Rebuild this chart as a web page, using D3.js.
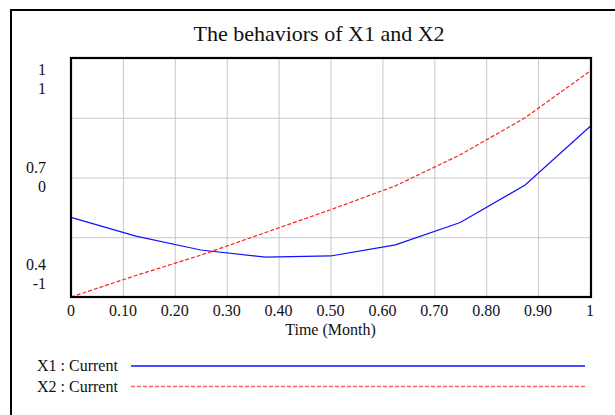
<!DOCTYPE html>
<html>
<head>
<meta charset="utf-8">
<script src="https://cdn.jsdelivr.net/npm/d3@7"></script>
<style>
  body { margin: 0; background: #fff; }
  text { font-family: "Liberation Serif", "Times New Roman", serif; fill: #111; }
</style>
</head>
<body>
<div id="chart"></div>
<script>
// values (saved every 0.125 month)
const time = [0, 0.125, 0.25, 0.375, 0.5, 0.625, 0.75, 0.875, 1]
const x1 = [0.60, 0.553, 0.518, 0.500, 0.503, 0.531, 0.587, 0.681, 0.828]
const x2 = [-1, -0.82, -0.65, -0.46, -0.27, -0.07, 0.19, 0.50, 0.89]

const xTicks = [0, 0.1, 0.2, 0.3, 0.4, 0.5, 0.6, 0.7, 0.8, 0.9, 1]
const xTickLabels = ["0", "0.10", "0.20", "0.30", "0.40", "0.50", "0.60", "0.70", "0.80", "0.90", "1"]
const x1Ticks = [0.4, 0.7, 1]
const x2Ticks = [-1, 0, 1]
const seriesNames = ["X1 : Current", "X2 : Current"]

const width = 615
const height = 415
const plotLeft = 71, plotRight = 590, plotTop = 58, plotBottom = 297

const svg = d3.select("#chart").append("svg")
  .attr("width", width)
  .attr("height", height)

// outer frame (only top and left edges show)
svg.append("path")
  .attr("d", "M11," + height + "V10H" + width)
  .attr("fill", "none")
  .attr("stroke", "#000")
  .attr("stroke-width", 2)

const x = d3.scaleLinear().domain([0, 1]).range([plotLeft, plotRight])
const y1 = d3.scaleLinear().domain([0.4, 1]).range([plotBottom, plotTop])
const y2 = d3.scaleLinear().domain([-1, 1]).range([plotBottom, plotTop])

// grid
const xGrid = d3.axisBottom(x).tickValues(xTicks).tickSize(-(plotBottom - plotTop)).tickFormat("")
svg.append("g")
  .attr("transform", "translate(0," + plotBottom + ")")
  .call(xGrid)
  .call(g => g.select(".domain").remove())
  .call(g => g.selectAll("line").attr("stroke", "#c8c8c8"))

const yGrid = d3.axisLeft(y2).tickValues([-0.5, 0, 0.5]).tickSize(-(plotRight - plotLeft)).tickFormat("")
svg.append("g")
  .attr("transform", "translate(" + plotLeft + ",0)")
  .call(yGrid)
  .call(g => g.select(".domain").remove())
  .call(g => g.selectAll("line").attr("stroke", "#c8c8c8"))

// lines
const line1 = d3.line().x((d, i) => x(time[i])).y(d => y1(d))
const line2 = d3.line().x((d, i) => x(time[i])).y(d => y2(d))

svg.append("path")
  .datum(x1)
  .attr("d", line1)
  .attr("fill", "none")
  .attr("stroke", "#1010ff")
  .attr("stroke-width", 1.2)

svg.append("path")
  .datum(x2)
  .attr("d", line2)
  .attr("fill", "none")
  .attr("stroke", "#ff2020")
  .attr("stroke-width", 1.2)
  .attr("stroke-dasharray", "4,2")

// plot border
svg.append("rect")
  .attr("x", plotLeft)
  .attr("y", plotTop)
  .attr("width", plotRight - plotLeft + 1)
  .attr("height", plotBottom - plotTop)
  .attr("fill", "none")
  .attr("stroke", "#000")
  .attr("stroke-width", 2.2)

// x tick labels
svg.append("g").selectAll("text")
  .data(xTicks)
  .join("text")
  .attr("x", d => x(d))
  .attr("y", 316)
  .attr("text-anchor", "middle")
  .attr("font-size", 16)
  .text((d, i) => xTickLabels[i])

svg.append("text")
  .attr("x", (plotLeft + plotRight) / 2)
  .attr("y", 335)
  .attr("text-anchor", "middle")
  .attr("font-size", 16)
  .text("Time (Month)")

// y labels, two scales stacked at each label position
x1Ticks.forEach((v, i) => {
  const gy = y1(v)
  const frac = (gy - plotTop) / (plotBottom - plotTop)
  const mid = gy + 26.5 - 44 * frac
  svg.append("text")
    .attr("x", 46).attr("y", mid - 9.5)
    .attr("text-anchor", "end").attr("font-size", 16)
    .text(String(v))
  svg.append("text")
    .attr("x", 46).attr("y", mid + 9.5)
    .attr("text-anchor", "end").attr("font-size", 16)
    .text(String(x2Ticks[i]))
})

// title
svg.append("text")
  .attr("x", 319)
  .attr("y", 41)
  .attr("text-anchor", "middle")
  .attr("font-size", 22)
  .text("The behaviors of X1 and X2")

// legend
const legend = svg.append("g")
seriesNames.forEach((name, i) => {
  const ly = 366 + i * 20.5
  legend.append("text")
    .attr("x", 37)
    .attr("y", ly + 5)
    .attr("font-size", 16)
    .text(name)
  legend.append("line")
    .attr("x1", 131).attr("x2", 585)
    .attr("y1", ly).attr("y2", ly)
    .attr("stroke", i == 0 ? "#1010ff" : "#ff6060")
    .attr("stroke-width", 1.5)
    .attr("stroke-dasharray", i == 0 ? null : "4,2")
})
</script>
</body>
</html>
